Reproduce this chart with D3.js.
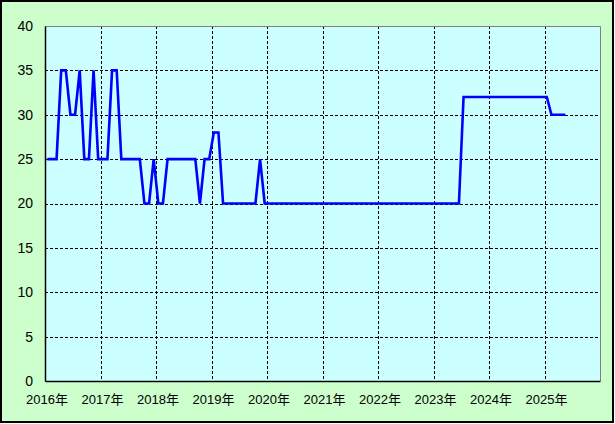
<!DOCTYPE html>
<html>
<head>
<meta charset="utf-8">
<script src="https://cdn.jsdelivr.net/npm/d3@7"></script>
<style>
  html, body { margin: 0; padding: 0; background: #ffffff; }
  svg { display: block; }
  text { font-family: "Liberation Sans", "Noto Sans CJK JP", sans-serif; fill: #000; }
</style>
</head>
<body>
<svg id="chart" width="615" height="424"></svg>
<script>
// Monthly values, Jan 2016 .. May 2025 (one point per month, plotted mid-month)
const values2016 = [25, 25, 25, 35, 35, 30, 30, 35, 25, 25, 35, 25];
const values2017 = [25, 25, 35, 35, 25, 25, 25, 25, 25, 20, 20, 25];
const values2018 = [20, 20, 25, 25, 25, 25, 25, 25, 25, 20, 25, 25];
const values2019 = [28, 28, 20, 20, 20, 20, 20, 20, 20, 20, 25, 20];
const values2020 = [20, 20, 20, 20, 20, 20, 20, 20, 20, 20, 20, 20];
const values2021 = [20, 20, 20, 20, 20, 20, 20, 20, 20, 20, 20, 20];
const values2022 = [20, 20, 20, 20, 20, 20, 20, 20, 20, 20, 20, 20];
const values2023 = [20, 20, 20, 20, 20, 20, 32, 32, 32, 32, 32, 32];
const values2024 = [32, 32, 32, 32, 32, 32, 32, 32, 32, 32, 32, 32];
const values2025 = [32, 30, 30, 30, 30];

const yearLabels = ["2016年", "2017年", "2018年", "2019年", "2020年",
                    "2021年", "2022年", "2023年", "2024年", "2025年"];
const yTicks = [0, 5, 10, 15, 20, 25, 30, 35, 40];

const values = [].concat(values2016, values2017, values2018, values2019, values2020,
                         values2021, values2022, values2023, values2024, values2025);

const svg = d3.select("#chart");
const L = 45, R = 600, T = 26, B = 381;

// outer frame
svg.append("rect")
  .attr("x", 1).attr("y", 1).attr("width", 612).attr("height", 421)
  .attr("fill", "#CCFFCC").attr("stroke", "#000").attr("stroke-width", 2);

const x = d3.scaleLinear().domain([0, yearLabels.length * 12]).range([L, R]);
const y = d3.scaleLinear().domain([0, 40]).range([B, T]);

// plot background
svg.append("rect")
  .attr("x", L).attr("y", T).attr("width", R - L).attr("height", B - T)
  .attr("fill", "#CCFFFF");

// grid
const grid = svg.append("g");
grid.selectAll("line.h").data(yTicks.filter(v => v > 0 && v < 40)).join("line")
  .attr("x1", L).attr("x2", R)
  .attr("y1", d => Math.round(y(d)) + 0.5).attr("y2", d => Math.round(y(d)) + 0.5)
  .attr("stroke", "#000").attr("stroke-width", 1).attr("stroke-dasharray", "3,2");
grid.selectAll("line.v").data(yearLabels.slice(1).map((d, i) => (i + 1) * 12)).join("line")
  .attr("x1", d => Math.round(x(d)) + 0.5).attr("x2", d => Math.round(x(d)) + 0.5)
  .attr("y1", T).attr("y2", B)
  .attr("stroke", "#000").attr("stroke-width", 1).attr("stroke-dasharray", "3,2");

// top & right border (gray)
svg.append("path")
  .attr("d", `M${L},${T + 0.5}H${R + 0.5}V${B}`)
  .attr("fill", "none").attr("stroke", "#808080").attr("stroke-width", 1);

// data line
const line = d3.line()
  .x((d, i) => x(i + 0.5))
  .y(d => y(d));
svg.append("path")
  .datum(values)
  .attr("d", line)
  .attr("fill", "none")
  .attr("stroke", "#0000FF")
  .attr("stroke-width", 2.6)
  .attr("stroke-linejoin", "miter");

// axes
const yAxis = d3.axisLeft(y).tickValues(yTicks).tickSize(0).tickPadding(12).tickSizeOuter(0);
const gy = svg.append("g").attr("transform", `translate(${L},0)`).call(yAxis);
gy.select(".domain").attr("stroke", "#000").attr("stroke-width", 1.5);
gy.selectAll("text").style("font-size", "14px").attr("fill", "#000")
  .style("font-family", "'Liberation Sans', sans-serif");

const xAxis = d3.axisBottom(x)
  .tickValues(yearLabels.map((d, i) => i * 12))
  .tickFormat((d, i) => yearLabels[i])
  .tickSize(0).tickPadding(14).tickSizeOuter(0);
const gx = svg.append("g").attr("transform", `translate(0,${B})`).call(xAxis);
gx.select(".domain").attr("stroke", "#000").attr("stroke-width", 1.5);
gx.selectAll("text").style("font-size", "13px").attr("fill", "#000")
  .attr("dx", 1.5)
  .style("font-family", "'Liberation Sans', 'Noto Sans CJK JP', sans-serif");
</script>
</body>
</html>
